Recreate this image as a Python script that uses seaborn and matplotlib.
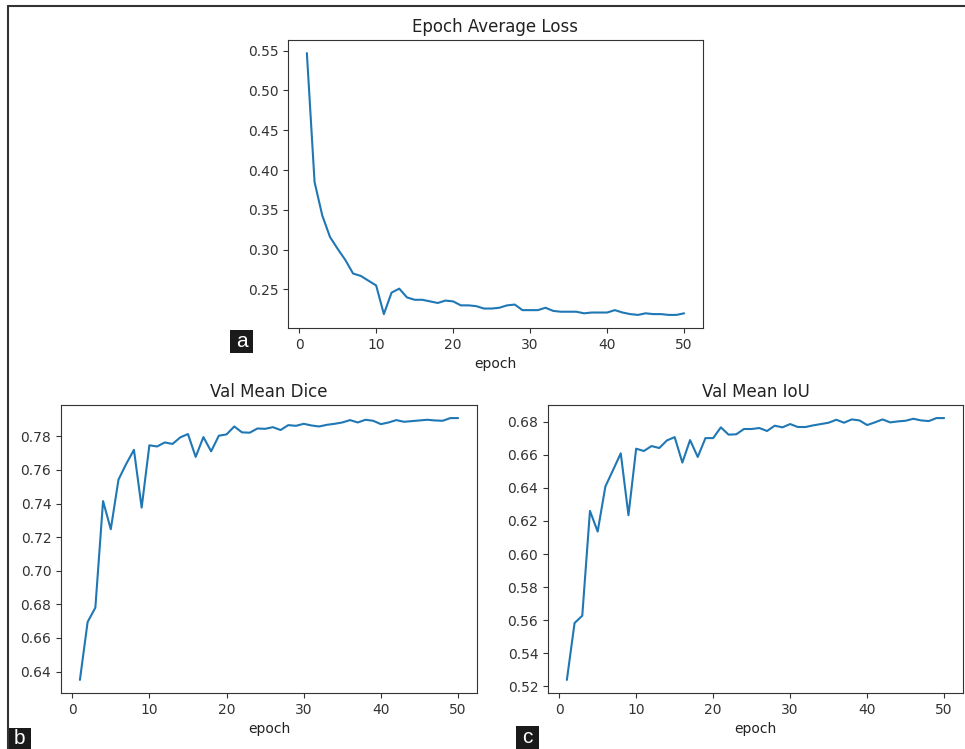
import numpy as np
import pandas as pd
import matplotlib
matplotlib.use("Agg")
import matplotlib.pyplot as plt
from matplotlib.lines import Line2D
from matplotlib.patches import Rectangle
import seaborn as sns

# values
epochs = list(range(1, 51))

avg_loss = [0.547, 0.385, 0.343, 0.316, 0.301, 0.287, 0.270, 0.267, 0.261, 0.255,
            0.219, 0.246, 0.251, 0.240, 0.237, 0.237, 0.235, 0.233, 0.236, 0.235,
            0.230, 0.230, 0.229, 0.226, 0.226, 0.227, 0.230, 0.231, 0.224, 0.224,
            0.224, 0.227, 0.223, 0.222, 0.222, 0.222, 0.220, 0.221, 0.221, 0.221,
            0.224, 0.221, 0.219, 0.218, 0.220, 0.219, 0.219, 0.218, 0.218, 0.220]

val_dice = [0.635, 0.6695, 0.678, 0.7415, 0.7247, 0.7543, 0.7636, 0.772, 0.7376, 0.7747,
            0.774, 0.7764, 0.7755, 0.7794, 0.7814, 0.7678, 0.7796, 0.7711, 0.7804, 0.7812,
            0.7859, 0.7824, 0.7822, 0.7847, 0.7845, 0.7855, 0.7838, 0.7867, 0.7863, 0.7875,
            0.7865, 0.7859, 0.7869, 0.7875, 0.7883, 0.7897, 0.7883, 0.7899, 0.7893, 0.7873,
            0.7883, 0.7897, 0.7887, 0.7891, 0.7895, 0.7899, 0.7895, 0.7893, 0.7909, 0.7909]

val_iou = [0.5239, 0.5583, 0.5627, 0.6261, 0.6136, 0.6408, 0.6508, 0.6609, 0.6235, 0.6637,
           0.6623, 0.6653, 0.6641, 0.6687, 0.6707, 0.6553, 0.6689, 0.6587, 0.6701, 0.6701,
           0.6766, 0.6722, 0.6724, 0.6756, 0.6756, 0.6762, 0.6744, 0.6776, 0.6766, 0.6786,
           0.6768, 0.6768, 0.6778, 0.6786, 0.6794, 0.6812, 0.6794, 0.6814, 0.6808, 0.6780,
           0.6796, 0.6814, 0.6796, 0.6802, 0.6806, 0.6818, 0.6808, 0.6804, 0.6822, 0.6822]

titles = ["Epoch Average Loss", "Val Mean Dice", "Val Mean IoU"]
panel_letters = ["a", "b", "c"]

df = pd.DataFrame({"epoch": epochs, "loss": avg_loss, "dice": val_dice, "iou": val_iou})

sns.set_style("ticks")
plt.rcParams['font.family'] = ['DejaVu Sans']
plt.rcParams['axes.edgecolor'] = '#333333'
plt.rcParams['xtick.color'] = '#333333'
plt.rcParams['ytick.color'] = '#333333'
plt.rcParams['text.color'] = '#222222'
plt.rcParams['axes.labelcolor'] = '#222222'

W, H = 965, 749
fig = plt.figure(figsize=(W / 100, H / 100), dpi=100)


def px_axes(left, top, right, bottom):
    return fig.add_axes([left / W, 1 - bottom / H, (right - left) / W, (bottom - top) / H])


ax_a = px_axes(288, 40, 703, 328)
ax_b = px_axes(61, 405, 477, 693)
ax_c = px_axes(548, 405, 963, 693)

for ax, col, title in zip([ax_a, ax_b, ax_c], ["loss", "dice", "iou"], titles):
    sns.lineplot(data=df, x="epoch", y=col, ax=ax, color="#1f77b4", linewidth=1.5)
    ax.set_title(title, fontsize=12)
    ax.set_xlabel("epoch", fontsize=10)
    ax.set_ylabel("")
    ax.set_xticks([0, 10, 20, 30, 40, 50])
    ax.tick_params(labelsize=10)
    ax.margins(x=0.05, y=0.05)

ax_a.set_yticks([0.25, 0.30, 0.35, 0.40, 0.45, 0.50, 0.55])
ax_b.set_yticks(np.round(np.arange(0.64, 0.781, 0.02), 2))
ax_c.set_yticks(np.round(np.arange(0.52, 0.681, 0.02), 2))
ax_c.set_yticklabels([f"{v:.2f}" for v in ax_c.get_yticks()])

# outer frame (top and left edges only)
fig.add_artist(Line2D([8 / W, 1], [1 - 6 / H, 1 - 6 / H], color="#333333", lw=1.5))
fig.add_artist(Line2D([8 / W, 8 / W], [0, 1 - 6 / H], color="#333333", lw=1.5))

# panel letters in black boxes
boxes = [(230, 330, 253, 353), (8, 728, 31, 749), (516, 726, 539, 749)]
for letter, (x0, y0, x1, y1) in zip(panel_letters, boxes):
    fig.add_artist(Rectangle((x0 / W, 1 - y1 / H), (x1 - x0) / W, (y1 - y0) / H,
                             transform=fig.transFigure, facecolor="#1a1a1a", edgecolor="none"))
    fig.text((x0 + x1) / 2 / W, 1 - (y0 + y1) / 2 / H, letter, color="white",
             ha="center", va="center", fontsize=15, family=["Liberation Sans", "DejaVu Sans"])

fig.savefig("out.png", dpi=100, facecolor="white")
